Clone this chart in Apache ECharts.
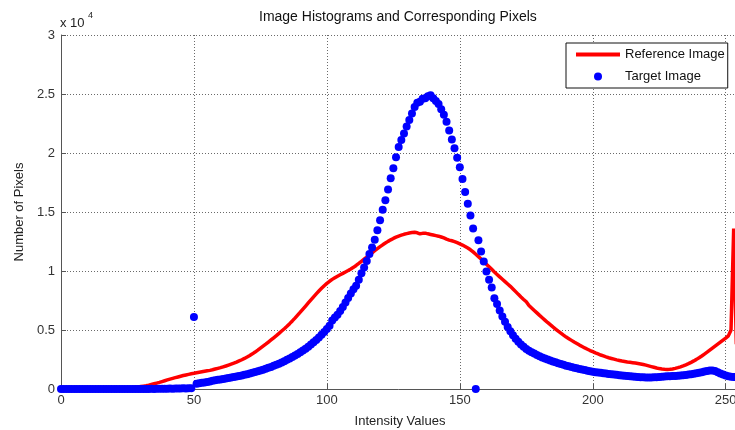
<!DOCTYPE html>
<html>
<head>
<meta charset="utf-8">
<script src="https://cdn.jsdelivr.net/npm/echarts@6.0.0/dist/echarts.min.js"></script>
<style>
html,body{margin:0;padding:0;background:#fff;}
#chart{width:735px;height:430px;}
</style>
</head>
<body>
<div id="chart"></div>
<script>
// Intensity values 0..255 are the index of each entry.
var seriesNames = ['Reference Image', 'Target Image'];
var xTicks = [0, 50, 100, 150, 200, 250];
var yTicks = [0, 0.5, 1, 1.5, 2, 2.5, 3];   // x 10^4

var referenceCounts = [
0,0,0,0,0,0,0,0,0,0,0,0,0,0,0,0,
0,0,0,0,0,0,0,20,40,60,90,120,150,180,210,240,
270,320,380,440,500,560,630,700,770,840,900,960,1020,1080,1140,1190,
1240,1290,1330,1380,1420,1460,1500,1540,1580,1630,1690,1750,1810,1880,1950,2030,
2110,2190,2280,2380,2480,2590,2710,2840,2980,3130,3290,3460,3630,3800,3980,4160,
4340,4520,4710,4910,5110,5320,5540,5770,6010,6260,6510,6770,7030,7290,7550,7810,
8060,8300,8530,8750,8950,9130,9290,9430,9560,9680,9800,9920,10040,10170,10310,10470,
10640,10820,11000,11180,11360,11540,11720,11890,12060,12220,12370,12510,12640,12760,12870,12960,
13040,13110,13170,13220,13260,13280,13240,13150,13190,13210,13150,13100,13050,13000,12950,12880,
12800,12700,12620,12560,12490,12400,12300,12200,12080,11950,11800,11620,11420,11220,11010,10800,
10580,10360,10140,9920,9710,9500,9300,9100,8900,8700,8480,8250,8020,7800,7590,7390,
7080,6870,6660,6450,6240,6040,5840,5640,5450,5260,5080,4900,4730,4560,4400,4260,
4120,3980,3850,3720,3600,3480,3370,3260,3160,3060,2970,2880,2800,2720,2650,2590,
2530,2470,2420,2370,2330,2290,2260,2230,2200,2160,2120,2070,2020,1960,1900,1840,
1780,1730,1690,1670,1660,1670,1700,1750,1810,1880,1960,2050,2150,2260,2380,2510,
2650,2800,2960,3120,3290,3460,3630,3800,3970,4140,4310,4500,5000,13600,3800,5200
];

var targetCounts = [
0,0,0,0,0,0,0,0,0,0,0,0,0,0,0,0,
0,0,0,0,0,0,0,0,0,0,0,0,0,0,5,0,
10,0,15,10,20,15,25,20,30,35,30,40,45,40,55,50,
60,65,6100,450,490,530,555,600,645,690,735,775,810,845,880,925,
975,1010,1055,1100,1150,1205,1255,1320,1375,1445,1500,1565,1640,1715,1800,1875,
1960,2050,2150,2245,2360,2470,2590,2710,2840,2975,3110,3265,3420,3590,3770,3960,
4160,4370,4590,4830,5080,5350,5800,6050,6300,6600,6950,7320,7720,8100,8450,8750,
9250,9800,10300,10850,11450,12000,12650,13450,14300,15200,16000,16900,17850,18700,19650,20500,
21100,21650,22250,22800,23350,23900,24250,24350,24600,24650,24800,24900,24650,24400,24150,23700,
23250,22650,21900,21150,20400,19600,18800,17800,16700,15700,14700,13600,0,12600,11650,10800,
9950,9250,8600,7700,7200,6650,6150,5700,5250,4900,4550,4250,4000,3780,3580,3400,
3250,3120,3000,2880,2770,2670,2580,2500,2420,2340,2260,2190,2120,2050,1980,1920,
1860,1800,1750,1700,1650,1600,1550,1500,1470,1430,1400,1370,1340,1310,1280,1250,
1220,1200,1170,1150,1130,1100,1080,1060,1040,1020,1000,990,980,970,980,990,
1000,1020,1040,1060,1080,1090,1100,1110,1130,1150,1170,1190,1220,1250,1290,1330,
1380,1430,1480,1530,1560,1560,1520,1430,1320,1220,1140,1080,1040,1020,1000,990
];

function pairs(arr){ return arr.map(function(v,i){ return [i, v]; }); }

var FONT = '"Liberation Sans", Arial, Helvetica, sans-serif';
var chart = echarts.init(document.getElementById('chart'), null, {renderer:'canvas'});
var gridLine = {show:true, lineStyle:{color:'#6a6a6a', type:[1,2], width:1}};

chart.setOption({
  animation: false,
  backgroundColor: '#fff',
  title: {
    text: 'Image Histograms and Corresponding Pixels',
    left: 259, top: 10, padding: 0,
    textStyle: {fontFamily: FONT, fontSize: 14, fontWeight: 'normal', color: '#111'}
  },
  graphic: [
    {type:'text', left:60, top:17, style:{text:'x 10', fontFamily:FONT, fontSize:13, fill:'#222'}},
    {type:'text', left:88, top:11, style:{text:'4', fontFamily:FONT, fontSize:9, fill:'#222'}}
  ],
  legend: {
    orient: 'vertical',
    left: 566, top: 43,
    padding: [5, 3, 5, 8],
    itemGap: 9,
    itemWidth: 44, itemHeight: 10,
    backgroundColor: '#fff',
    borderColor: '#111', borderWidth: 1,
    textStyle: {fontFamily: FONT, fontSize: 13, color: '#111'},
    data: [
      {name: seriesNames[0], itemStyle: {opacity: 0}, lineStyle: {width: 4, color: '#ff0000'}},
      {name: seriesNames[1], lineStyle: {color: 'rgba(0,0,0,0)', opacity: 0}}
    ]
  },
  grid: {left: 61, top: 35, width: 678, height: 354, containLabel: false, outerBoundsMode: 'none'},
  xAxis: {
    type: 'value', min: 0, max: 255, interval: 50,
    name: 'Intensity Values', nameLocation: 'middle', nameGap: 26,
    nameTextStyle: {fontFamily: FONT, fontSize: 13, color: '#222'},
    axisLine: {show:true, lineStyle:{color:'#555', width:1}},
    axisTick: {show:true, inside:true, length:5, lineStyle:{color:'#555'}},
    axisLabel: {
      fontFamily: FONT, fontSize: 13, color: '#333', margin: 5, showMaxLabel: false,
      formatter: function(v){ return xTicks.indexOf(v) >= 0 ? String(v) : ''; }
    },
    splitLine: gridLine
  },
  yAxis: {
    type: 'value', min: 0, max: 30000, interval: 5000,
    name: 'Number of Pixels', nameLocation: 'middle', nameGap: 33, nameRotate: 90,
    nameTextStyle: {fontFamily: FONT, fontSize: 13, color: '#222'},
    axisLine: {show:true, lineStyle:{color:'#555', width:1}},
    axisTick: {show:true, inside:true, length:5, lineStyle:{color:'#555'}},
    axisLabel: {
      fontFamily: FONT, fontSize: 13, color: '#333', margin: 6,
      formatter: function(v){ var t = v / 10000; return yTicks.indexOf(t) >= 0 ? String(t) : ''; }
    },
    splitLine: gridLine
  },
  series: [
    {
      name: seriesNames[0], type: 'line', data: pairs(referenceCounts),
      symbol: 'none', showSymbol: false, clip: true,
      lineStyle: {color: '#ff0000', width: 3.5},
      itemStyle: {color: '#ff0000'},
      z: 2
    },
    {
      name: seriesNames[1], type: 'line', data: pairs(targetCounts),
      symbol: 'circle', symbolSize: 8, showSymbol: true, showAllSymbol: true, clip: false,
      lineStyle: {width: 0, opacity: 0},
      itemStyle: {color: '#0000ff'},
      z: 3
    }
  ]
});
</script>
</body>
</html>
